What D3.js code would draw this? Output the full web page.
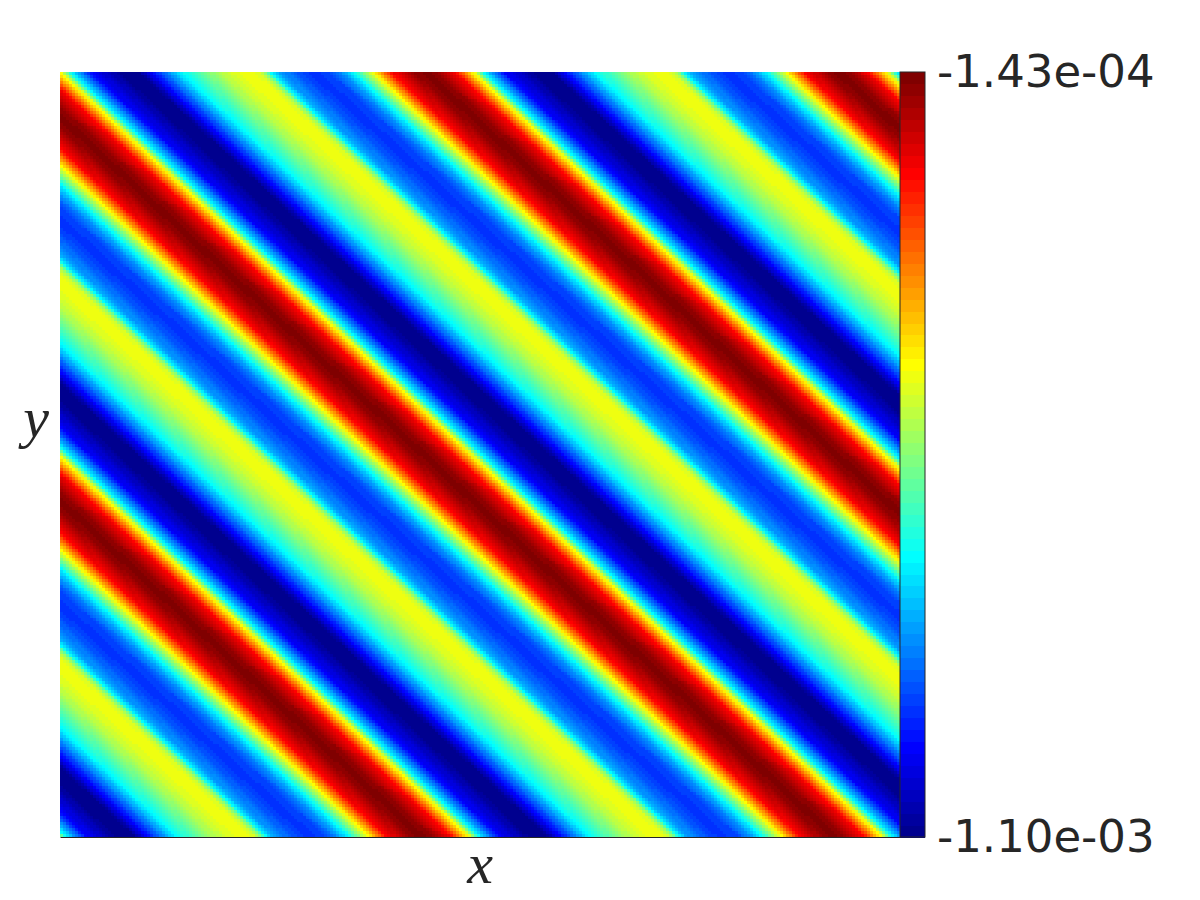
<!DOCTYPE html>
<html>
<head>
<meta charset="utf-8">
<script src="https://cdn.jsdelivr.net/npm/d3@7"></script>
<style>
  html, body { margin: 0; background: #fff; }
</style>
</head>
<body>
<div id="chart"></div>
<script>
// the field is a set of parallel stripes, so it is read as one period along the top edge
const stripeOffsets = [0, 2, 12, 33, 63, 80, 93, 123, 160, 175, 190, 200, 207, 212, 220, 240, 253, 270, 283, 295, 315, 333, 357, 367, 377, 397, 413]
// field value at each offset, in units of 1e-4, read against the colorbar
const stripeValues = [-4.95, -5.10, -7.49, -9.88, -10.93, -10.93, -9.88, -7.49, -5.85, -5.40, -5.17, -5.40, -6.28, -7.49, -8.38, -9.13, -9.43, -9.28, -8.53, -7.49, -5.10, -2.70, -1.66, -1.50, -1.66, -2.70, -4.95]
const stripePeriod = 413
const stripeSlope = 0.93
const stripeShift = 2

const colorbarRange = [-1.10e-3, -1.43e-4]
const colorbarLabels = ['-1.10e-03', '-1.43e-04']

// matlab jet(64), stops given as colormap index
const jetRed = [[0, 0], [23, 0], [39, 1], [55, 1], [63, 0.5]]
const jetGreen = [[0, 0], [7, 0], [23, 1], [39, 1], [55, 0], [63, 0]]
const jetBlue = [[0, 9 / 16], [7, 1], [23, 1], [39, 0], [63, 0]]

let channel = stops => d3.scaleLinear().domain(stops.map(d => d[0])).range(stops.map(d => d[1]))
let red = channel(jetRed), green = channel(jetGreen), blue = channel(jetBlue)
let jet = d3.range(64).map(i => d3.rgb(red(i) * 255, green(i) * 255, blue(i) * 255).formatHex())

const width = 1200
const height = 900
const cell = 3

let scaleX = d3.scaleLinear().domain([0, 840]).range([60, 900])
let scaleY = d3.scaleLinear().domain([0, 765]).range([72, 837])
let scaleBar = d3.scaleLinear().domain(colorbarRange).range([837, 72])
let scaleColor = d3.scaleQuantize().domain(colorbarRange).range(jet)
let profile = d3.scaleLinear().domain(stripeOffsets).range(stripeValues)

let field = (x, y) => {
  let phase = x - y / stripeSlope + stripeShift
  phase = ((phase % stripePeriod) + stripePeriod) % stripePeriod
  return profile(phase) * 1e-4
}

let svg = d3.select('#chart')
  .append('svg')
  .attr('width', width)
  .attr('height', height)
  .style('display', 'block')

svg.append('clipPath')
    .attr('id', 'plot-area')
  .append('rect')
    .attr('x', scaleX(0))
    .attr('y', scaleY(0))
    .attr('width', scaleX(840) - scaleX(0))
    .attr('height', scaleY(765) - scaleY(0))

let cells = d3.cross(d3.range(0, 840, cell), d3.range(0, 765, cell))

svg.append('g')
    .attr('clip-path', 'url(#plot-area)')
    .attr('shape-rendering', 'crispEdges')
  .selectAll('rect')
  .data(cells)
  .join('rect')
    .attr('x', d => scaleX(d[0]))
    .attr('y', d => scaleY(d[1]))
    .attr('width', cell)
    .attr('height', cell)
    .attr('fill', d => scaleColor(field(d[0] + cell / 2, d[1] + cell / 2)))

// colorbar
let barX = d3.scaleLinear().domain([0, 1]).range([900, 925])
let barStep = (scaleBar.range()[0] - scaleBar.range()[1]) / jet.length

svg.append('g')
    .attr('shape-rendering', 'crispEdges')
  .selectAll('rect')
  .data(jet)
  .join('rect')
    .attr('x', barX(0))
    .attr('y', (d, i) => scaleBar.range()[0] - (i + 1) * barStep)
    .attr('width', barX(1) - barX(0))
    .attr('height', barStep + 0.5)
    .attr('fill', d => d)

svg.append('rect')
    .attr('x', barX(0))
    .attr('y', scaleBar.range()[1])
    .attr('width', barX(1) - barX(0))
    .attr('height', scaleBar.range()[0] - scaleBar.range()[1])
    .attr('fill', 'none')
    .attr('stroke', '#262626')
    .attr('stroke-width', 1)

svg.append('g')
  .attr('transform', `translate(${barX(1)}, 0)`)
  .call(d3.axisRight(scaleBar)
    .tickValues(colorbarRange)
    .tickSize(0)
    .tickPadding(12)
    .tickFormat((d, i) => colorbarLabels[i]))
  .call(g => g.select('.domain').remove())
  .call(g => g.selectAll('.tick text')
    .attr('font-family', 'DejaVu Sans')
    .attr('font-size', 45)
    .attr('fill', '#262626'))

// only the bottom axis line shows under the image
svg.append('g')
  .attr('transform', `translate(0, ${scaleY(765)})`)
  .call(d3.axisBottom(scaleX).tickValues([]).tickSize(0))
  .call(g => g.select('.domain').attr('stroke', '#262626'))

svg.append('text')
    .text('x')
    .attr('x', 480)
    .attr('y', 883)
    .attr('text-anchor', 'middle')
    .attr('font-family', 'Liberation Serif')
    .attr('font-style', 'italic')
    .attr('font-size', 58)
    .attr('fill', '#262626')

svg.append('text')
    .text('y')
    .attr('x', 36)
    .attr('y', 437)
    .attr('text-anchor', 'middle')
    .attr('font-family', 'Liberation Serif')
    .attr('font-style', 'italic')
    .attr('font-size', 58)
    .attr('fill', '#262626')
</script>
</body>
</html>
